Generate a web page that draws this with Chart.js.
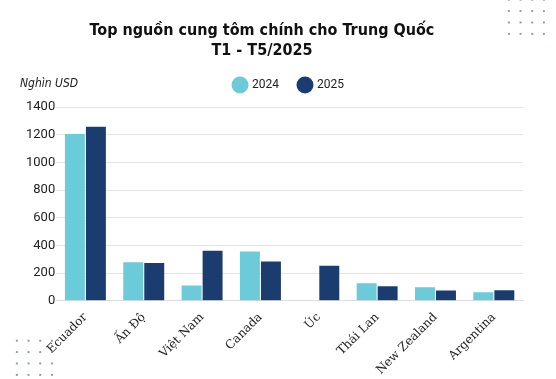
<!DOCTYPE html>
<html><head><meta charset="utf-8">
<script src="https://cdn.jsdelivr.net/npm/chart.js@4"></script>
<style>
html,body{margin:0;padding:0;background:#fff;}
#wrap{position:relative;width:556px;height:379px;}
.dots{position:absolute;background-image:radial-gradient(circle,#8a9aa0 0.9px,transparent 1.3px);background-size:11.7px 11.4px;}
#unit{position:absolute;left:20px;top:76px;font-family:"DejaVu Sans Condensed","DejaVu Sans";font-style:italic;font-size:12px;color:#222;}
</style></head>
<body><div id="wrap">
<div class="dots" style="left:503px;top:-6px;width:47px;height:46px;"></div>
<div class="dots" style="left:11px;top:335px;width:47px;height:46px;"></div>
<canvas id="c" width="556" height="379"></canvas>
<div id="unit">Nghìn USD</div>
</div>
<script>
const categories = ["Ecuador","Ấn Độ","Việt Nam","Canada","Úc","Thái Lan","New Zealand","Argentina"];
const values2024 = [1205, 278, 110, 356, 0, 127, 98, 62];
const values2025 = [1258, 272, 361, 284, 253, 105, 74, 76];
const seriesLabels = ["2024","2025"];
const yTicks = [0,200,400,600,800,1000,1200,1400];

const shiftBlocks = {
  id: 'shiftBlocks',
  afterLayout(chart) {
    const t = chart.titleBlock, l = chart.legend;
    if (t) { t.left -= 12; t.right -= 12; }
    if (l) { l.left += 15; l.right += 15; l.top -= 6; l.bottom -= 6; }
  }
};

new Chart(document.getElementById('c'), {
  type: 'bar',
  data: {
    labels: categories,
    datasets: [
      {label: seriesLabels[0], data: values2024, backgroundColor: '#6ccbd9', barPercentage: 0.95, categoryPercentage: 0.72},
      {label: seriesLabels[1], data: values2025, backgroundColor: '#1b3c6e', barPercentage: 0.95, categoryPercentage: 0.72}
    ]
  },
  plugins: [shiftBlocks],
  options: {
    responsive: false,
    animation: false,
    layout: {padding: {left: 25, right: 33, top: 12, bottom: 0}},
    plugins: {
      title: {
        display: true,
        text: ["Top nguồn cung tôm chính cho Trung Quốc", "T1 - T5/2025"],
        font: {family: '"DejaVu Sans Condensed", "DejaVu Sans"', weight: 'bold', size: 16, lineHeight: 1.25},
        color: '#111',
        padding: {top: 9, bottom: 4}
      },
      legend: {
        labels: {usePointStyle: true, pointStyle: 'circle', boxWidth: 12, boxHeight: 12, padding: 20,
          font: {family: 'Roboto', size: 12}, color: '#222'}
      },
      tooltip: {enabled: false}
    },
    scales: {
      x: {
        grid: {display: false},
        border: {color: '#ddd'},
        ticks: {minRotation: 45, maxRotation: 45, font: {family: '"DejaVu Serif"', size: 12}, color: '#222', padding: 1.5}
      },
      y: {
        min: 0, max: 1400,
        afterBuildTicks: (s) => { s.ticks = yTicks.map(v => ({value: v})); },
        grid: {color: '#e4e4e4', drawTicks: false},
        border: {display: false},
        ticks: {font: {family: 'Roboto', size: 13}, color: '#222', padding: 1, callback: (v) => String(v)}
      }
    }
  }
});
</script>
</body></html>
